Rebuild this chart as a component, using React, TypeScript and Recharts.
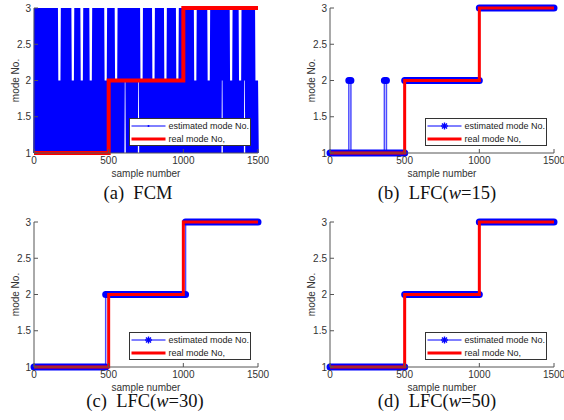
import React from "react";
import { LineChart, Line, XAxis, YAxis } from "recharts";

type Run = [number, number, number];

const xTicks = [0, 500, 1000, 1500];
const yTicks = [1, 1.5, 2, 2.5, 3];

// real mode: [from sample, to sample, mode]
const realModeRuns: Run[] = [
  [0, 500, 1],
  [500, 1000, 2],
  [1000, 1500, 3],
];

// FCM estimate, one digit every 5 samples (0..1500)
const fcmStep = 5;
const fcmEstimated = [
  "1313131313", "1313131313", "1313131313", "1312121313", "1313131313",
  "1212131313", "1312121313", "1313121213", "1313131313", "1313121213",
  "1313131312", "1213131313", "1323131313", "1313131313", "2312121313",
  "1313131312", "1213131313", "1313121213", "1313131313", "1212131313",
  "1313131313", "1313121213", "1313131313", "1312121313", "1313131313",
  "1323131313", "1312121313", "1313121213", "1323131313", "1313131212",
  "1",
];

const lfc15Runs: Run[] = [
  [0, 126, 1],
  [126, 140, 2],
  [140, 364, 1],
  [364, 378, 2],
  [378, 500, 1],
  [500, 1000, 2],
  [1000, 1500, 3],
];
const lfc30Runs: Run[] = [
  [0, 480, 1],
  [480, 1015, 2],
  [1015, 1500, 3],
];
const lfc50Runs: Run[] = [
  [0, 500, 1],
  [500, 1000, 2],
  [1000, 1500, 3],
];

const legendLabels = ["estimated mode No.", "real mode No,"];

const AXIS = "#555";
const TEXT = "#333";
const BLUE = "#0000ff";
const RED = "#ff0000";
const SANS = "'Liberation Sans', Arial, sans-serif";
const SERIF = "'Liberation Serif', 'Times New Roman', serif";

function runsToPath(runs: Run[]) {
  const pts: { x: number; y: number | null }[] = [];
  runs.forEach(([s, e, m]) => {
    pts.push({ x: s, y: m }, { x: e, y: m });
  });
  return pts;
}

function runsToBand(runs: Run[]) {
  const pts: { x: number; y: number | null }[] = [];
  runs.forEach(([s, e, m], i) => {
    if (i > 0) pts.push({ x: s, y: null });
    pts.push({ x: s, y: m }, { x: e, y: m });
  });
  return pts;
}

const fcmPoints = fcmEstimated
  .join("")
  .split("")
  .map((d, i) => ({ x: i * fcmStep, y: Number(d) }));

const realPoints = runsToPath(realModeRuns);

type PanelProps = {
  left: number;
  top: number;
  est: { x: number; y: number | null }[];
  estWidth: number;
  band?: { x: number; y: number | null }[];
  redWidth: number;
  star: boolean;
  tag: string;
  method: React.ReactNode;
  captionY: number;
  captionX: number;
};

function Asterisk({ cx, cy, r }: { cx: number; cy: number; r: number }) {
  const d = r * 0.707;
  return (
    <g stroke={BLUE} strokeWidth={1.4}>
      <line x1={cx - r} y1={cy} x2={cx + r} y2={cy} />
      <line x1={cx} y1={cy - r} x2={cx} y2={cy + r} />
      <line x1={cx - d} y1={cy - d} x2={cx + d} y2={cy + d} />
      <line x1={cx - d} y1={cy + d} x2={cx + d} y2={cy - d} />
    </g>
  );
}

function Panel({ left, top, est, estWidth, band, redWidth, star, tag, method, captionY, captionX }: PanelProps) {
  const W = 270;
  const H = 170;
  const lx = 129.5;
  const ly = 118.5;
  return (
    <div style={{ position: "absolute", left, top, width: 282, height: 210 }}>
      <LineChart width={W} height={H} margin={{ top: 8, right: 12, bottom: 0, left: 0 }}>
        <XAxis
          xAxisId="b"
          type="number"
          dataKey="x"
          domain={[0, 1500]}
          ticks={xTicks}
          interval={0}
          height={17}
          tickSize={-4}
          tickMargin={8}
          stroke={AXIS}
          tick={{ fill: TEXT, fontSize: 10, fontFamily: SANS }}
        />
        <XAxis
          xAxisId="t"
          orientation="top"
          type="number"
          dataKey="x"
          domain={[0, 1500]}
          ticks={xTicks}
          interval={0}
          height={0}
          tickSize={-4}
          stroke={AXIS}
          tick={false}
        />
        <YAxis
          yAxisId="l"
          type="number"
          domain={[1, 3]}
          ticks={yTicks}
          interval={0}
          width={34}
          tickSize={-4}
          tickMargin={7}
          stroke={AXIS}
          tick={{ fill: TEXT, fontSize: 10, fontFamily: SANS }}
        />
        <YAxis
          yAxisId="r"
          orientation="right"
          type="number"
          domain={[1, 3]}
          ticks={yTicks}
          interval={0}
          width={0}
          tickSize={-4}
          stroke={AXIS}
          tick={false}
        />
        <Line
          xAxisId="b"
          yAxisId="l"
          data={est}
          dataKey="y"
          type="linear"
          stroke={BLUE}
          strokeWidth={estWidth}
          strokeLinejoin="bevel"
          strokeOpacity={band ? 0.7 : 1}
          dot={false}
          activeDot={false}
          isAnimationActive={false}
        />
        {band && (
          <Line
            xAxisId="b"
            yAxisId="l"
            data={band}
            dataKey="y"
            type="linear"
            stroke={BLUE}
            strokeWidth={7}
            strokeLinecap="round"
            connectNulls={false}
            dot={false}
            activeDot={false}
            isAnimationActive={false}
          />
        )}
        <Line
          xAxisId="b"
          yAxisId="l"
          data={realPoints}
          dataKey="y"
          type="linear"
          stroke={RED}
          strokeWidth={redWidth}
          dot={false}
          activeDot={false}
          isAnimationActive={false}
        />
      </LineChart>
      <svg
        width={282}
        height={210}
        style={{ position: "absolute", left: 0, top: 0, pointerEvents: "none", overflow: "visible" }}
      >
        <text
          x={15}
          y={80.5}
          transform="rotate(-90 15 80.5)"
          textAnchor="middle"
          dominantBaseline="central"
          fontSize={10}
          fontFamily={SANS}
          fill={TEXT}
        >
          mode No.
        </text>
        <text x={146} y={176.5} textAnchor="middle" fontSize={10} fontFamily={SANS} fill={TEXT}>
          sample number
        </text>
        <rect x={lx} y={ly} width={121} height={27} fill="#fff" stroke="#333" strokeWidth={1} />
        <line x1={lx + 2} y1={ly + 7.5} x2={lx + 36} y2={ly + 7.5} stroke={BLUE} strokeWidth={1} />
        {star ? (
          <Asterisk cx={lx + 19} cy={ly + 7.5} r={3.5} />
        ) : (
          <circle cx={lx + 19} cy={ly + 7.5} r={1} fill={BLUE} />
        )}
        <line x1={lx + 2} y1={ly + 20.5} x2={lx + 36} y2={ly + 20.5} stroke={RED} strokeWidth={3} />
        <text x={lx + 39} y={ly + 10.5} fontSize={9} fontFamily={SANS} fill="#222">
          {legendLabels[0]}
        </text>
        <text x={lx + 39} y={ly + 23.5} fontSize={9} fontFamily={SANS} fill="#222">
          {legendLabels[1]}
        </text>
        <text
          x={captionX}
          y={captionY}
          textAnchor="middle"
          fontSize={18.5}
          fontFamily={SERIF}
          fill="#111"
          style={{ whiteSpace: "pre" }}
        >
          {tag}
          {"  "}
          {method}
        </text>
      </svg>
    </div>
  );
}

export default function App() {
  return (
    <div
      style={{
        position: "absolute",
        left: 0,
        top: 0,
        width: 564,
        height: 420,
        background: "#fff",
        overflow: "hidden",
      }}
    >
      <Panel
        left={0}
        top={0}
        est={fcmPoints}
        estWidth={1.6}
        redWidth={4}
        star={false}
        tag="(a)"
        method="FCM"
        captionX={138}
        captionY={199}
      />
      <Panel
        left={296}
        top={0}
        est={runsToPath(lfc15Runs)}
        estWidth={1.5}
        band={runsToBand(lfc15Runs)}
        redWidth={3}
        star
        tag="(b)"
        method={
          <>
            LFC(<tspan fontStyle="italic">w</tspan>=15)
          </>
        }
        captionX={141}
        captionY={199}
      />
      <Panel
        left={0}
        top={214}
        est={runsToPath(lfc30Runs)}
        estWidth={1.5}
        band={runsToBand(lfc30Runs)}
        redWidth={3}
        star
        tag="(c)"
        method={
          <>
            LFC(<tspan fontStyle="italic">w</tspan>=30)
          </>
        }
        captionX={145}
        captionY={193}
      />
      <Panel
        left={296}
        top={214}
        est={runsToPath(lfc50Runs)}
        estWidth={1.5}
        band={runsToBand(lfc50Runs)}
        redWidth={3}
        star
        tag="(d)"
        method={
          <>
            LFC(<tspan fontStyle="italic">w</tspan>=50)
          </>
        }
        captionX={141}
        captionY={193}
      />
    </div>
  );
}
